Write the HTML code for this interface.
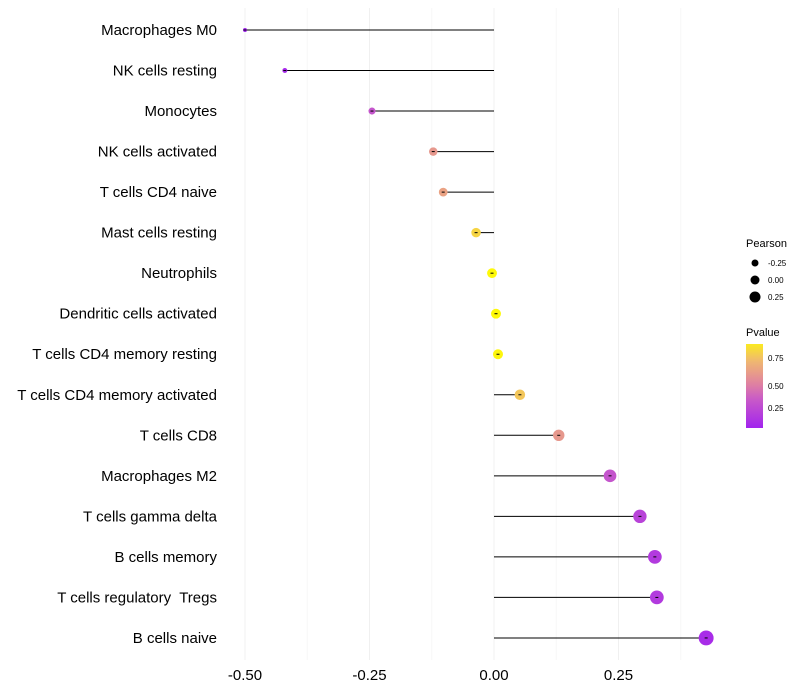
<!DOCTYPE html>
<html><head><meta charset="utf-8"><style>
body{margin:0;background:#fff;font-family:"Liberation Sans",sans-serif;}
svg{display:block}
text{white-space:pre}
</style></head><body>
<svg id="chart" width="800" height="700"></svg>
<script>
const categories=["Macrophages M0","NK cells resting","Monocytes","NK cells activated","T cells CD4 naive","Mast cells resting","Neutrophils","Dendritic cells activated","T cells CD4 memory resting","T cells CD4 memory activated","T cells CD8","Macrophages M2","T cells gamma delta","B cells memory","T cells regulatory  Tregs","B cells naive"];
const pearson=[-0.50,-0.42,-0.245,-0.122,-0.102,-0.036,-0.004,0.004,0.008,0.052,0.13,0.233,0.293,0.323,0.327,0.426];
const pvalue=[0.01,0.05,0.3,0.6,0.65,0.85,0.98,0.98,0.97,0.8,0.6,0.3,0.2,0.15,0.15,0.07];
const xTicks=[-0.5,-0.25,0,0.25];
const xTickLabels=["-0.50","-0.25","0.00","0.25"];
const ns="http://www.w3.org/2000/svg";
const svg=document.getElementById('chart');
const xs=v=>494+v*498;
const ys=i=>30+i*40.53;
const rs=v=>2+(v+0.5)*5.9;
const stops=[[0,[160,32,240]],[0.33,[200,90,200]],[0.5,[224,130,160]],[0.75,[240,184,112]],[1,[255,255,0]]];
function col(p){for(let i=1;i<stops.length;i++){if(p<=stops[i][0]){const a=stops[i-1],b=stops[i];const t=(p-a[0])/(b[0]-a[0]);const c=a[1].map((x,k)=>Math.round(x+(b[1][k]-x)*t));return `rgb(${c})`;}}return 'rgb(255,255,0)';}
function el(t,a){const e=document.createElementNS(ns,t);for(const k in a)e.setAttribute(k,a[k]);svg.appendChild(e);return e;}
[-0.375,-0.125,0.125,0.375].forEach(v=>{const l=el('line',{x1:xs(v),x2:xs(v),y1:8,y2:660,stroke:'#f7f7f7','stroke-width':1});

});
xTicks.forEach((v,i)=>{const l=el('line',{x1:xs(v),x2:xs(v),y1:8,y2:660,stroke:'#f0f0f0','stroke-width':1});


const t=el('text',{x:xs(v),y:680,'text-anchor':'middle','font-size':15,fill:'#000'});t.textContent=xTickLabels[i];

});
categories.forEach((c,i)=>{const y=ys(i);
const t=el('text',{x:217,y:y+5,'text-anchor':'end','font-size':15,fill:'#000'});t.textContent=c;


const l=el('line',{x1:xs(0),x2:xs(pearson[i]),y1:y,y2:y,stroke:'#000','stroke-width':1});


const d=el('circle',{cx:xs(pearson[i]),cy:y,r:rs(pearson[i]),fill:col(pvalue[i])});


el('line',{x1:xs(pearson[i])-1.5,x2:xs(pearson[i])+1.5,y1:y,y2:y,stroke:'#000','stroke-width':1});
});
const lt=el('text',{x:746,y:247,'font-size':11,fill:'#000'});lt.textContent='Pearson';


[[-0.25,263,3.5],[0,280,4.5],[0.25,297,5.5]].forEach(([v,y,r])=>{const c=el('circle',{cx:755,cy:y,r:r,fill:'#000'});


const t=el('text',{x:768,y:y+3,'font-size':8,fill:'#000'});t.textContent=v===0?'0.00':v.toFixed(2);

});
const pt=el('text',{x:746,y:336,'font-size':11,fill:'#000'});pt.textContent='Pvalue';


const defs=el('defs',{});const g=document.createElementNS(ns,'linearGradient');g.setAttribute('id','gr');g.setAttribute('x1',0);g.setAttribute('y1',1);g.setAttribute('x2',0);g.setAttribute('y2',0);defs.appendChild(g);
for(let p=0.02;p<=0.93;p+=0.05){const s=document.createElementNS(ns,'stop');s.setAttribute('offset',(p-0.02)/0.91);s.setAttribute('stop-color',col(p));g.appendChild(s);}
const cb=el('rect',{x:746,y:344,width:17,height:84,fill:'url(#gr)'});


[[0.75,358],[0.5,386],[0.25,408]].forEach(([v,y])=>{const t=el('text',{x:768,y:y+3,'font-size':8,fill:'#000'});t.textContent=v.toFixed(2);

});
</script>
</body></html>
